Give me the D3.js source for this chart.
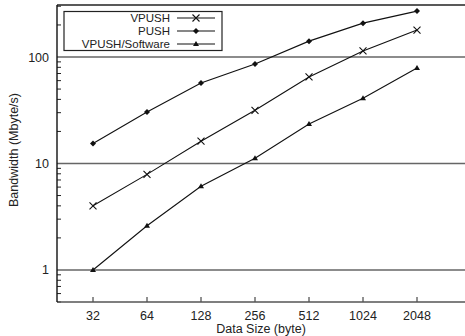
<!DOCTYPE html>
<html>
<head>
<meta charset="utf-8">
<script src="https://cdn.jsdelivr.net/npm/d3@7"></script>
<style>
  body { margin: 0; background: #fff; }
  svg { display: block; font-family: "Liberation Sans", Arial, sans-serif; }
</style>
</head>
<body>
<figure id="chart" style="margin:0"></figure>
<script>
// data
const sizes = [32, 64, 128, 256, 512, 1024, 2048];
const vpush = [4, 7.9, 16.2, 31.6, 65, 114, 179];
const push = [15.4, 30.5, 57, 86, 141, 208, 270];
const software = [1, 2.6, 6.1, 11.2, 23.5, 41, 79];
const yTicks = [1, 10, 100];

const width = 465, height = 336;
const plotLeft = 57, plotTop = 5, plotBottom = 302, plotRight = 471;

const svg = d3.select("figure#chart")
  .append("svg")
  .attr("width", width)
  .attr("height", height);

const x = d3.scaleLog().base(2)
  .domain([Math.pow(2, 4.3333), 4096])
  .range([plotLeft, plotRight]);

const y = d3.scaleLog()
  .domain([0.5, 308])
  .range([plotBottom, plotTop]);

// minor ticks on the y axis
const minor = [];
for (let d = 0.1; d < 1000; d *= 10) {
  for (let k = 2; k <= 9; k++) {
    const v = d * k;
    if (v >= 0.5 && v <= 308) minor.push(v);
  }
}
svg.append("g")
  .selectAll("line")
  .data(minor)
  .enter()
  .append("line")
  .attr("x1", plotLeft).attr("x2", plotLeft + 4)
  .attr("y1", d => y(d)).attr("y2", d => y(d))
  .attr("stroke", "#222").attr("stroke-width", 1);

// grid lines at major ticks
svg.append("g")
  .selectAll("line")
  .data(yTicks)
  .enter()
  .append("line")
  .attr("x1", plotLeft).attr("x2", width)
  .attr("y1", d => y(d)).attr("y2", d => y(d))
  .attr("stroke", "#666").attr("stroke-width", 1.6);

svg.append("g")
  .selectAll("text")
  .data(yTicks)
  .enter()
  .append("text")
  .attr("x", 49)
  .attr("y", d => y(d))
  .attr("dy", "0.36em")
  .attr("text-anchor", "end")
  .style("font-size", "12.5px")
  .attr("fill", "#222")
  .text(d => d);

// x ticks
svg.append("g")
  .selectAll("line")
  .data(sizes)
  .enter()
  .append("line")
  .attr("x1", d => x(d)).attr("x2", d => x(d))
  .attr("y1", plotBottom).attr("y2", plotBottom - 5)
  .attr("stroke", "#222").attr("stroke-width", 1);

svg.append("g")
  .selectAll("text")
  .data(sizes)
  .enter()
  .append("text")
  .attr("x", d => x(d))
  .attr("y", 320)
  .attr("text-anchor", "middle")
  .style("font-size", "12.5px")
  .attr("fill", "#222")
  .text(d => d);

// frame
svg.append("line")
  .attr("x1", plotLeft).attr("x2", width)
  .attr("y1", plotTop).attr("y2", plotTop)
  .attr("stroke", "#222").attr("stroke-width", 1.6);
svg.append("line")
  .attr("x1", plotLeft).attr("x2", width)
  .attr("y1", plotBottom).attr("y2", plotBottom)
  .attr("stroke", "#555").attr("stroke-width", 1.6);
svg.append("line")
  .attr("x1", plotLeft).attr("x2", plotLeft)
  .attr("y1", plotTop).attr("y2", plotBottom)
  .attr("stroke", "#111").attr("stroke-width", 1.4);

// axis titles
svg.append("text")
  .attr("x", 261).attr("y", 333)
  .attr("text-anchor", "middle")
  .style("font-size", "12.5px")
  .attr("fill", "#222")
  .text("Data Size (byte)");

svg.append("text")
  .attr("transform", "translate(18,150) rotate(-90)")
  .attr("text-anchor", "middle")
  .style("font-size", "12.5px")
  .attr("fill", "#222")
  .text("Bandwidth (Mbyte/s)");

// series
const series = [
  { name: "VPUSH", values: vpush, marker: "cross" },
  { name: "PUSH", values: push, marker: "diamond" },
  { name: "VPUSH/Software", values: software, marker: "triangle" }
];

const line = d3.line()
  .x(d => x(d[0]))
  .y(d => y(d[1]));

function drawMarker(g, kind, cx, cy) {
  if (kind === "cross") {
    g.append("path")
      .attr("d", `M${cx - 3.5},${cy - 3.5}L${cx + 3.5},${cy + 3.5}M${cx - 3.5},${cy + 3.5}L${cx + 3.5},${cy - 3.5}`)
      .attr("stroke", "#111").attr("stroke-width", 1.1).attr("fill", "none");
  } else if (kind === "diamond") {
    g.append("path")
      .attr("d", `M${cx},${cy - 3}L${cx + 3},${cy}L${cx},${cy + 3}L${cx - 3},${cy}Z`)
      .attr("fill", "#111");
  } else {
    g.append("path")
      .attr("d", `M${cx},${cy - 3}L${cx + 3},${cy + 2}L${cx - 3},${cy + 2}Z`)
      .attr("fill", "#111");
  }
}

series.forEach(s => {
  const pts = sizes.map((d, i) => [d, s.values[i]]);
  const g = svg.append("g");
  g.append("path")
    .datum(pts)
    .attr("d", line)
    .attr("fill", "none")
    .attr("stroke", "#111")
    .attr("stroke-width", 1.1);
  pts.forEach(p => drawMarker(g, s.marker, x(p[0]), y(p[1])));
});

// legend
const legend = svg.append("g");
legend.append("rect")
  .attr("x", 64).attr("y", 11.5)
  .attr("width", 158).attr("height", 39)
  .attr("fill", "#fff")
  .attr("stroke", "#222").attr("stroke-width", 1.2);

series.forEach((s, i) => {
  const ly = 18 + i * 13;
  legend.append("text")
    .attr("x", 170).attr("y", ly)
    .attr("dy", "0.36em")
    .attr("text-anchor", "end")
    .style("font-size", "11.5px")
    .attr("fill", "#222")
    .text(s.name);
  legend.append("line")
    .attr("x1", 177).attr("x2", 215)
    .attr("y1", ly).attr("y2", ly)
    .attr("stroke", "#111").attr("stroke-width", 1.1);
  drawMarker(legend, s.marker, 196, ly);
});
</script>
</body>
</html>
